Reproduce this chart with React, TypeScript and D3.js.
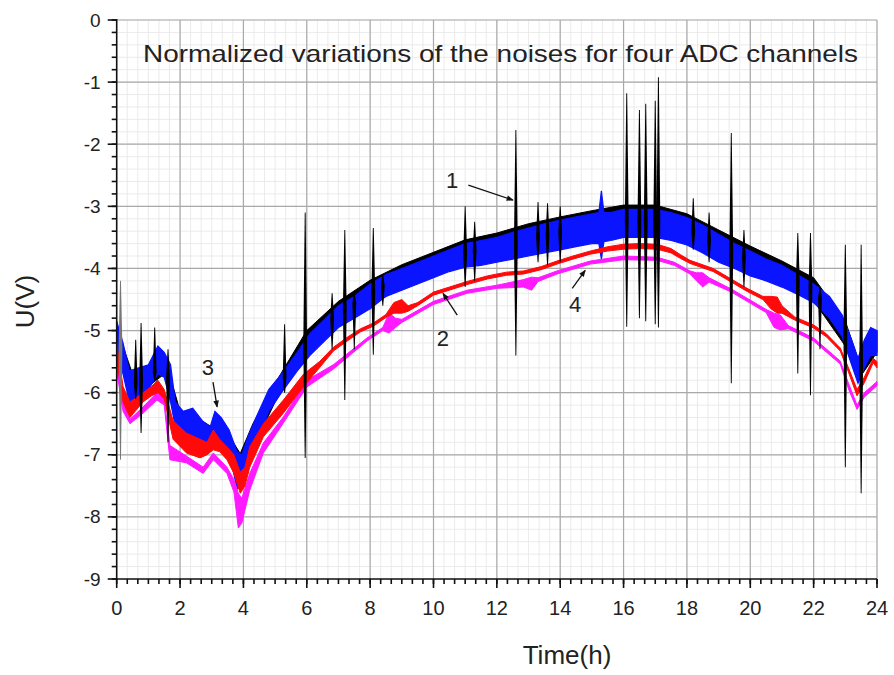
import React from "react";
import * as d3 from "d3";

// ---------- data ----------
const xTicks = [0, 2, 4, 6, 8, 10, 12, 14, 16, 18, 20, 22, 24];
const yTicks = [0, -1, -2, -3, -4, -5, -6, -7, -8, -9];

// channel 1 (black) envelope
const ch1T = [0, 0.5, 1.0, 1.5, 2.0, 2.5, 3.0, 3.5, 3.9, 4.3, 5.0, 6.0, 7.0, 8.0, 9.0, 10.0, 11.0, 12.0, 13.0, 14.0, 15.0, 16.0, 17.0, 18.0, 19.0, 20.0, 21.0, 22.0, 23.0, 23.4, 24.0];
const ch1Hi = [-4.95, -5.7, -5.6, -5.4, -6.3, -6.4, -6.55, -6.65, -6.98, -6.5, -5.85, -5.0, -4.53, -4.19, -3.94, -3.74, -3.54, -3.43, -3.28, -3.17, -3.07, -2.98, -2.98, -3.12, -3.38, -3.64, -3.88, -4.15, -4.85, -5.45, -5.0];
const ch1Lo = [-5.2, -6.05, -5.9, -5.7, -6.65, -6.75, -6.8, -6.9, -7.45, -6.9, -6.15, -5.35, -4.9, -4.6, -4.3, -4.1, -3.95, -3.87, -3.77, -3.67, -3.57, -3.47, -3.47, -3.6, -3.87, -4.1, -4.27, -4.52, -5.25, -5.8, -5.35];

// channel 1 spikes: time, top, bottom
const spikeT = [0.12, 0.6, 0.77, 1.2, 1.62, 5.3, 5.95, 6.8, 7.2, 7.5, 8.1, 8.4, 11.0, 11.3, 12.6, 13.3, 13.6, 14.0, 16.1, 16.5, 16.7, 17.0, 17.1, 18.2, 18.7, 19.4, 19.8, 21.5, 21.9, 22.2, 23.0, 23.5];
const spikeHi = [-4.2, -5.15, -4.88, -4.95, -5.3, -4.9, -3.1, -4.4, -3.38, -4.4, -3.35, -4.1, -3.0, -3.25, -1.77, -2.93, -2.95, -3.0, -1.18, -1.45, -1.35, -1.3, -0.92, -2.87, -3.1, -1.82, -3.38, -3.43, -3.43, -4.3, -3.62, -3.62];
const spikeLo = [-7.08, -6.1, -6.65, -5.8, -6.8, -6.0, -7.05, -5.3, -6.12, -5.3, -5.39, -4.6, -4.3, -4.2, -5.4, -3.9, -3.95, -3.9, -4.94, -4.8, -4.85, -4.9, -4.95, -3.7, -3.9, -5.85, -4.3, -5.69, -6.04, -5.3, -7.2, -7.62];

// channel 3 (blue) envelope
const ch3T = [0, 0.2, 0.4, 0.7, 1.0, 1.3, 1.5, 1.7, 1.85, 2.1, 2.4, 2.7, 2.95, 3.1, 3.3, 3.55, 3.8, 3.95, 4.15, 4.4, 4.8, 5.2, 5.7, 6.1, 6.6, 7.0, 7.5, 8.0, 8.5, 9.0, 9.5, 10.0, 10.5, 11.0, 11.5, 12.0, 12.5, 13.0, 13.5, 14.0, 14.5, 15.0, 15.22, 15.3, 15.38, 15.6, 16.0, 16.5, 17.0, 17.5, 18.0, 18.5, 19.0, 19.5, 20.0, 20.5, 21.0, 21.5, 22.0, 22.5, 22.9, 23.2, 23.4, 23.6, 23.8, 24.0];
const ch3Hi = [-4.85, -5.2, -5.65, -5.6, -5.55, -5.25, -5.35, -5.55, -6.15, -6.3, -6.25, -6.45, -6.55, -6.3, -6.4, -6.6, -6.95, -7.0, -6.7, -6.4, -5.95, -5.7, -5.35, -5.05, -4.8, -4.6, -4.45, -4.25, -4.1, -4.0, -3.9, -3.8, -3.7, -3.6, -3.55, -3.5, -3.42, -3.35, -3.28, -3.22, -3.17, -3.12, -3.1, -2.75, -3.1, -3.1, -3.05, -3.05, -3.05, -3.1, -3.18, -3.3, -3.45, -3.6, -3.72, -3.85, -3.95, -4.1, -4.25, -4.45, -4.75, -5.15, -5.45, -5.15, -4.95, -5.0];
const ch3Lo = [-5.25, -5.7, -6.15, -6.05, -5.95, -5.7, -5.75, -6.15, -6.55, -6.8, -6.8, -6.85, -6.85, -6.75, -6.8, -6.95, -7.55, -7.5, -7.1, -6.85, -6.3, -6.0, -5.65, -5.4, -5.15, -4.95, -4.8, -4.65, -4.45, -4.35, -4.25, -4.15, -4.05, -3.98, -3.95, -3.9, -3.85, -3.8, -3.75, -3.7, -3.65, -3.6, -3.6, -3.85, -3.57, -3.55, -3.5, -3.5, -3.5, -3.55, -3.62, -3.75, -3.9, -4.0, -4.12, -4.2, -4.3, -4.42, -4.55, -4.8, -5.1, -5.55, -5.85, -5.6, -5.4, -5.4];

// channel 2 (red) envelope
const ch2T = [0, 0.2, 0.42, 0.83, 1.1, 1.3, 1.5, 1.78, 2.2, 2.63, 2.85, 3.05, 3.25, 3.48, 3.7, 3.9, 4.05, 4.2, 4.63, 5.26, 5.9, 6.4, 6.84, 7.3, 7.7, 8.1, 8.5, 8.75, 9.0, 9.2, 9.5, 10.0, 10.5, 11.06, 11.7, 12.3, 12.84, 13.4, 13.9, 14.4, 14.95, 15.5, 16.0, 16.5, 17.06, 17.5, 17.8, 18.1, 18.83, 19.4, 19.9, 20.4, 20.65, 20.85, 21.0, 21.4, 22.0, 22.4, 22.84, 23.1, 23.37, 23.6, 23.88, 24.0];
const ch2Hi = [-5.2, -5.9, -6.15, -6.0, -5.9, -5.8, -5.95, -6.45, -6.65, -6.75, -6.8, -6.6, -6.75, -6.87, -7.0, -7.28, -7.2, -6.87, -6.5, -6.12, -5.7, -5.5, -5.27, -5.1, -4.97, -4.88, -4.74, -4.55, -4.5, -4.6, -4.55, -4.38, -4.3, -4.21, -4.12, -4.06, -4.04, -3.97, -3.88, -3.8, -3.72, -3.65, -3.61, -3.6, -3.61, -3.68, -3.78, -3.87, -4.0, -4.17, -4.32, -4.45, -4.45, -4.46, -4.6, -4.78, -4.91, -5.05, -5.28, -5.6, -5.95, -5.75, -5.45, -5.5];
const ch2Lo = [-5.45, -6.15, -6.4, -6.15, -6.05, -6.0, -6.1, -6.75, -6.97, -7.05, -7.0, -6.92, -6.95, -7.08, -7.3, -7.62, -7.5, -7.2, -6.71, -6.33, -5.9, -5.6, -5.33, -5.16, -5.02, -4.93, -4.79, -4.72, -4.72, -4.69, -4.6, -4.43, -4.35, -4.26, -4.17, -4.11, -4.09, -4.02, -3.93, -3.85, -3.77, -3.72, -3.69, -3.68, -3.69, -3.75, -3.84, -3.92, -4.05, -4.22, -4.37, -4.5, -4.65, -4.72, -4.72, -4.83, -4.96, -5.1, -5.33, -5.67, -6.05, -5.84, -5.52, -5.6];

// channel 4 (magenta) envelope
const ch4T = [0, 0.2, 0.42, 0.83, 1.27, 1.5, 1.68, 2.2, 2.73, 3.05, 3.48, 3.7, 3.84, 3.95, 4.2, 4.63, 5.26, 6.0, 6.84, 7.9, 8.4, 8.6, 8.8, 9.0, 10.0, 11.06, 12.0, 12.84, 13.1, 13.3, 13.9, 14.95, 16.0, 17.06, 17.6, 18.1, 18.3, 18.5, 18.7, 19.4, 19.9, 20.5, 20.75, 20.95, 21.2, 22.0, 22.84, 23.1, 23.37, 23.6, 24.0];
const ch4Hi = [-5.45, -6.1, -6.43, -6.23, -6.0, -6.1, -6.85, -7.02, -7.2, -6.97, -7.2, -7.4, -7.62, -7.7, -7.3, -6.81, -6.39, -5.8, -5.55, -5.12, -4.95, -4.72, -4.8, -4.82, -4.53, -4.35, -4.27, -4.18, -4.14, -4.15, -4.04, -3.88, -3.8, -3.82, -3.9, -4.04, -4.07, -4.07, -4.15, -4.33, -4.48, -4.66, -4.72, -4.75, -4.92, -5.12, -5.49, -5.85, -6.2, -6.0, -5.82];
const ch4Lo = [-5.65, -6.3, -6.5, -6.33, -6.12, -6.2, -7.08, -7.13, -7.3, -7.08, -7.3, -7.6, -8.18, -8.1, -7.57, -6.97, -6.49, -5.91, -5.62, -5.17, -5.0, -5.04, -4.95, -4.87, -4.58, -4.4, -4.32, -4.3, -4.35, -4.21, -4.09, -3.93, -3.86, -3.87, -3.95, -4.09, -4.2, -4.3, -4.22, -4.38, -4.53, -4.71, -4.95, -4.99, -4.97, -5.17, -5.54, -5.94, -6.27, -6.07, -5.89];

// annotations: label, text position (t,U), arrow tail, arrow head
const annLabel = ["1", "2", "3", "4"];
const annText = [[10.59, -2.58], [10.3, -5.12], [2.88, -5.6], [14.47, -4.58]];
const annTail = [[11.1, -2.66], [10.75, -4.75], [3.04, -5.83], [14.38, -4.32]];
const annHead = [[12.51, -2.9], [10.3, -4.4], [3.17, -6.23], [14.79, -4.03]];

const TITLE = "Normalized variations of the noises for four ADC channels";

// ---------- layout ----------
const W = 894, H = 675;
const M = { left: 116.7, right: 877, top: 20, bottom: 579 };
const FONT = "'Liberation Sans', Arial, Helvetica, sans-serif";

export default function App() {
  const x = d3.scaleLinear().domain([0, 24]).range([M.left, M.right]);
  const y = d3.scaleLinear().domain([-9, 0]).range([M.bottom, M.top]);

  const band = (t: number[], hi: number[], lo: number[]) =>
    d3.area<number>()
      .x((_, i) => x(t[i]))
      .y0((_, i) => y(lo[i]))
      .y1((_, i) => y(hi[i]))
      .curve(d3.curveLinear)(t) || "";

  // centre of the black band, used to place the widest part of each spike
  const mid1 = d3.scaleLinear().domain(ch1T).range(ch1T.map((_, i) => (ch1Hi[i] + ch1Lo[i]) / 2)).clamp(true);

  const spikePath = (i: number) => {
    const sx = x(spikeT[i]);
    const top = y(spikeHi[i]);
    const bot = y(spikeLo[i]);
    let m = y(mid1(spikeT[i]));
    m = Math.max(top + 2, Math.min(bot - 2, m));
    const w = 1.9, e = 0.45;
    return `M${sx - e},${top}L${sx + e},${top}L${sx + w},${m}L${sx + e},${bot}L${sx - e},${bot}L${sx - w},${m}Z`;
  };

  const minorX = d3.range(0, 24 + 1e-9, 1 / 3);
  const minorY = d3.range(-9, 1e-9, 0.2);

  return (
    <svg width={W} height={H} style={{ position: "absolute", left: 0, top: 0, background: "#fff" }}>
      <defs>
        <marker id="ah" viewBox="0 0 10 10" refX="9" refY="5" markerWidth="9" markerHeight="7" orient="auto" markerUnits="userSpaceOnUse">
          <path d="M0,1 L10,5 L0,9 z" fill="#111" />
        </marker>
      </defs>
      <rect width={W} height={H} fill="#fff" />
      {/* minor grid */}
      <g stroke="#e6e6e6" strokeWidth={0.8}>
        {minorX.map((v, i) => (
          <line key={"mx" + i} x1={x(v)} x2={x(v)} y1={M.top} y2={M.bottom} />
        ))}
        {minorY.map((v, i) => (
          <line key={"my" + i} x1={M.left} x2={M.right} y1={y(v)} y2={y(v)} />
        ))}
      </g>
      {/* major grid */}
      <g stroke="#a9a9a9" strokeWidth={1.2}>
        {xTicks.slice(1).map((v) => (
          <line key={"gx" + v} x1={x(v)} x2={x(v)} y1={M.top} y2={M.bottom} />
        ))}
        {yTicks.slice(0, -1).map((v) => (
          <line key={"gy" + v} x1={M.left} x2={M.right} y1={y(v)} y2={y(v)} />
        ))}
      </g>

      {/* series */}
      <path d={band(ch1T, ch1Hi, ch1Lo)} fill="#000" stroke="#000" strokeWidth={1} />
      <path d={band(ch3T, ch3Hi, ch3Lo)} fill="#0a14ff" stroke="#0a14ff" strokeWidth={1.2} />
      <path d={band(ch4T, ch4Hi, ch4Lo)} fill="#ff19ff" stroke="#ff19ff" strokeWidth={1} />
      <path d={band(ch2T, ch2Hi, ch2Lo)} fill="#ff0a0a" stroke="#ff0a0a" strokeWidth={1} />
      <g fill="#000">
        {spikeT.map((_, i) => (
          <path key={"s" + i} d={spikePath(i)} fill={i === 0 ? "#777" : "#000"} />
        ))}
      </g>

      {/* annotations */}
      <g fontFamily={FONT} fontSize={22} fill="#222">
        {annLabel.map((l, i) => (
          <g key={"a" + i}>
            <text x={x(annText[i][0])} y={y(annText[i][1])} textAnchor="middle" dominantBaseline="central">{l}</text>
            <line x1={x(annTail[i][0])} y1={y(annTail[i][1])} x2={x(annHead[i][0])} y2={y(annHead[i][1])}
              stroke="#111" strokeWidth={1.3} markerEnd="url(#ah)" />
          </g>
        ))}
      </g>

      {/* axes */}
      <g stroke="#111" strokeWidth={1.6}>
        <line x1={M.left} x2={M.left} y1={M.top - 1} y2={M.bottom + 1} />
        <line x1={M.left - 1} x2={M.right} y1={M.bottom} y2={M.bottom} />
        {minorY.map((v, i) => (
          <line key={"ty" + i} x1={M.left - 5} x2={M.left} y1={y(v)} y2={y(v)} />
        ))}
        {yTicks.map((v) => (
          <line key={"Ty" + v} x1={M.left - 9} x2={M.left} y1={y(v)} y2={y(v)} />
        ))}
        {minorX.map((v, i) => (
          <line key={"tx" + i} x1={x(v)} x2={x(v)} y1={M.bottom} y2={M.bottom + 5} />
        ))}
        {xTicks.map((v) => (
          <line key={"Tx" + v} x1={x(v)} x2={x(v)} y1={M.bottom} y2={M.bottom + 9} />
        ))}
      </g>
      <g fontFamily={FONT} fontSize={19} fill="#222">
        {yTicks.map((v) => (
          <text key={"ly" + v} x={M.left - 16} y={y(v)} textAnchor="end" dominantBaseline="central">{v}</text>
        ))}
      </g>
      <g fontFamily={FONT} fontSize={20} fill="#222">
        {xTicks.map((v) => (
          <text key={"lx" + v} x={x(v)} y={615} textAnchor="middle">{v}</text>
        ))}
      </g>
      <text x={567} y={664} textAnchor="middle" fontFamily={FONT} fontSize={26} fill="#222">Time(h)</text>
      <text transform={`translate(34,${(M.top + M.bottom) / 2 + 2}) rotate(-90)`} textAnchor="middle"
        fontFamily={FONT} fontSize={26} fill="#222">U(V)</text>
      <text x={143} y={62} fontFamily={FONT} fontSize={24} fill="#222" textLength={715} lengthAdjust="spacingAndGlyphs">{TITLE}</text>
    </svg>
  );
}
